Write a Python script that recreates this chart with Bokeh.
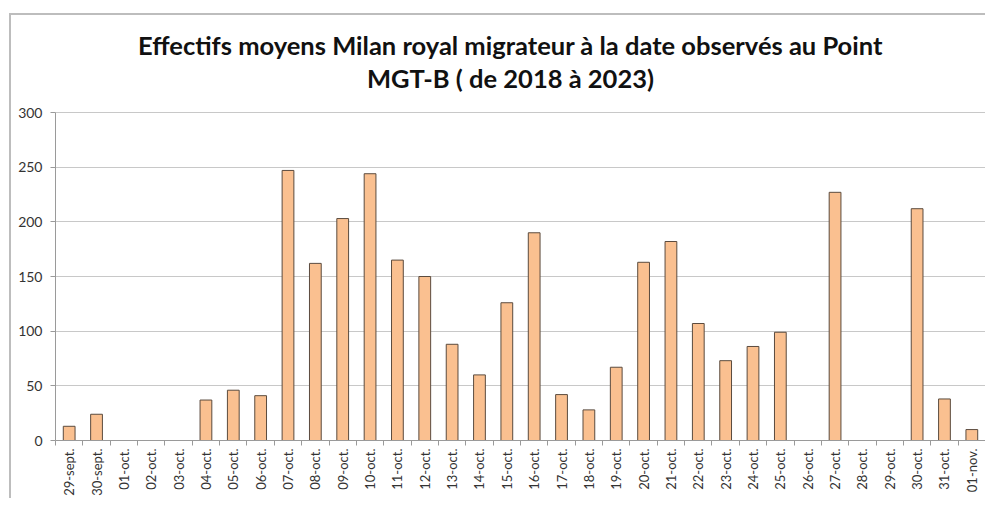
from bokeh.plotting import figure
from bokeh.models import FixedTicker, Range1d
from bokeh.embed import file_html
from bokeh.resources import INLINE
from bokeh.core.properties import value

dates = ["29-sept.", "30-sept.", "01-oct.", "02-oct.", "03-oct.", "04-oct.", "05-oct.",
         "06-oct.", "07-oct.", "08-oct.", "09-oct.", "10-oct.", "11-oct.", "12-oct.",
         "13-oct.", "14-oct.", "15-oct.", "16-oct.", "17-oct.", "18-oct.", "19-oct.",
         "20-oct.", "21-oct.", "22-oct.", "23-oct.", "24-oct.", "25-oct.", "26-oct.",
         "27-oct.", "28-oct.", "29-oct.", "30-oct.", "31-oct.", "01-nov."]
effectifs = [13, 24, 0, 0, 0, 37, 46, 41, 247, 162, 203, 244, 165, 150, 88, 60, 126,
             190, 42, 28, 67, 163, 182, 107, 73, 86, 99, 0, 227, 0, 0, 212, 38, 10]
y_ticks = [0, 50, 100, 150, 200, 250, 300]
title_lines = ["Effectifs moyens Milan royal migrateur à la date observés au Point",
               "MGT-B ( de 2018 à 2023)"]

n = len(dates)
centers = [i + 0.5 for i in range(n)]
bounds = list(range(n + 1))

# layout (pixels): plotting area from canvas top to y=440, value axis 0..300 spans 328 px
H, BOTTOM, AXIS_PX = 498, 58, 328
frame_px = H - BOTTOM
y_top = 300 * frame_px / AXIS_PX
px_to_y = y_top / frame_px

p = figure(width=985, height=H, output_backend="svg", toolbar_location=None,
           x_range=Range1d(0, n), y_range=Range1d(0, y_top),
           min_border_left=55, min_border_right=0, min_border_top=0, min_border_bottom=BOTTOM)
p.outline_line_color = None
p.background_fill_alpha = 0
p.border_fill_alpha = 0
p.styles = {
    "background": ("linear-gradient(#bdbdbd, #bdbdbd) 9px 13px / 2px 100% no-repeat, "
                   "linear-gradient(#bdbdbd, #bdbdbd) 9px 13px / 100% 2px no-repeat, white"),
}

p.vbar(x=centers, top=effectifs, width=0.43, bottom=0,
       fill_color="#FAC090", line_color="#5b4b3e", line_width=1)

# x axis
xa = p.xaxis[0]
xa.ticker = FixedTicker(ticks=centers, minor_ticks=bounds)
xa.major_label_overrides = {c: d for c, d in zip(centers, dates)}
xa.major_label_orientation = 1.5708
xa.major_tick_out = 0
xa.major_tick_in = 0
xa.minor_tick_out = 5
xa.minor_tick_in = 0
xa.minor_tick_line_color = "#9a9a9a"
xa.axis_line_color = "#9a9a9a"
xa.major_label_text_font = "Lato"
xa.major_label_text_font_size = "13px"
xa.major_label_text_color = "#333333"
xa.major_label_standoff = 3

# y axis (line limited to 0..300)
ya = p.yaxis[0]
ya.ticker = FixedTicker(ticks=y_ticks)
ya.bounds = (0, 300)
ya.major_tick_out = 5
ya.major_tick_in = 0
ya.minor_tick_line_color = None
ya.major_tick_line_color = "#9a9a9a"
ya.axis_line_color = "#9a9a9a"
ya.major_label_text_font = "Lato"
ya.major_label_text_font_size = "14px"
ya.major_label_text_color = "#333333"
ya.major_label_standoff = 8

p.xgrid.grid_line_color = None
p.ygrid.ticker = FixedTicker(ticks=y_ticks)
p.ygrid.grid_line_color = "#c8c8c8"
p.ygrid.grid_line_width = 1

# two centred title lines, drawn in the top part of the plotting area
p.text(x=[n / 2, n / 2],
       y=[(frame_px - 44) * px_to_y, (frame_px - 77) * px_to_y],
       text=title_lines, x_offset=-10,
       text_align="center", text_baseline="middle",
       text_font=value("Lato"), text_font_style="bold",
       text_font_size="25.5px", text_color="#111111")

open("out.html", "w").write(file_html(p, INLINE))
